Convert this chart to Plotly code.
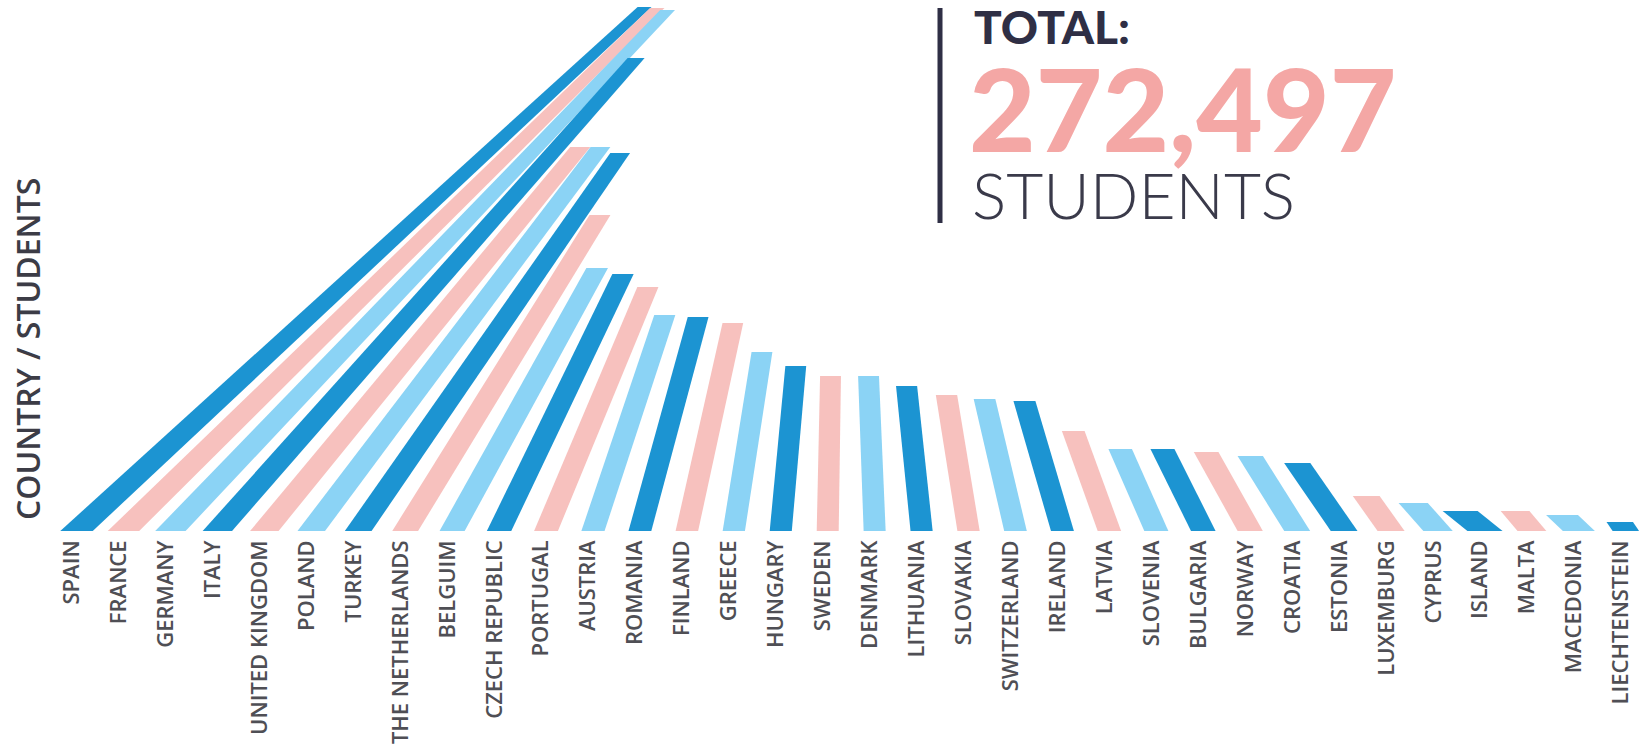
import math
import plotly.graph_objects as go

# Students per country (values ordered as drawn, left to right)
countries = [
    "SPAIN", "FRANCE", "GERMANY", "ITALY", "UNITED KINGDOM", "POLAND", "TURKEY",
    "THE NETHERLANDS", "BELGUIM", "CZECH REPUBLIC", "PORTUGAL", "AUSTRIA",
    "ROMANIA", "FINLAND", "GREECE", "HUNGARY", "SWEDEN", "DENMARK", "LITHUANIA",
    "SLOVAKIA", "SWITZERLAND", "IRELAND", "LATVIA", "SLOVENIA", "BULGARIA",
    "NORWAY", "CROATIA", "ESTONIA", "LUXEMBURG", "CYPRUS", "ISLAND", "MALTA",
    "MACEDONIA", "LIECHTENSTEIN",
]
students = [
    21260, 21220, 21140, 19190, 15580, 15580, 15340,
    12820, 10670, 10430, 9900, 8760,
    8680, 8440, 7260, 6690, 6290, 6290, 5880,
    5520, 5360, 5270, 4060, 3330, 3330,
    3210, 3040, 2760, 1420, 1140, 810, 810,
    650, 370,
]
total_label = "272,497"

# Sideways lean of each bar top, measured in bar slots
lean = [
    12.10, 11.37, 10.59, 8.92, 6.73, 6.16, 5.58,
    4.15, 3.09, 2.64, 2.17, 1.53,
    1.24, 0.98, 0.60, 0.32, 0.06, -0.13, -0.32,
    -0.47, -0.66, -0.81, -0.77, -0.77, -0.87,
    -0.94, -1.00, -1.00, -0.53, -0.53, -0.53, -0.36,
    -0.36, -0.13,
]

palette = ["#1C94D2", "#F7C1BE", "#8BD3F5"]

W, H = 1647, 751
SLOT_PX = 46.95          # horizontal distance between bar slots
STUDENTS_PER_PX = 40.57  # vertical scale
BASE_PX = 531            # baseline, pixels from the top
LEFT_PX = 76.5           # centre of the first slot
THICK = 22.0             # bar thickness at the foot, pixels

x_lo = -LEFT_PX / SLOT_PX
x_hi = x_lo + W / SLOT_PX
y_hi = BASE_PX * STUDENTS_PER_PX

lengths = []
for v, ln in zip(students, lean):
    lengths.append(math.hypot(v / STUDENTS_PER_PX, ln * SLOT_PX))
L_max = max(lengths)

fig = go.Figure()
for i, (name, v, ln) in enumerate(zip(countries, students, lean)):
    h_px = v / STUDENTS_PER_PX
    L = lengths[i]
    cos_t = h_px / L
    t_top = THICK * (1 - 0.57 * (L / L_max) ** 1.5)
    wb = THICK / cos_t / SLOT_PX
    wt = t_top / cos_t / SLOT_PX
    xs = [i - wb / 2, i + wb / 2, i + ln + wt / 2, i + ln - wt / 2, i - wb / 2]
    ys = [0, 0, v, v, 0]
    fig.add_trace(go.Scatter(
        x=xs, y=ys, mode="lines", fill="toself",
        fillcolor=palette[i % 3], line=dict(width=0, color=palette[i % 3]),
        hoverinfo="text", text=f"{name}: {v:,}", showlegend=False,
    ))

fig.update_xaxes(
    range=[x_lo, x_hi], showgrid=False, zeroline=False, showline=False,
    tickmode="array", tickvals=[i - 0.1 for i in range(len(countries))],
    ticktext=countries, tickangle=-90, ticks="",
    tickfont=dict(family="Open Sans", size=22, color="#4f4f55", weight=600),
    ticklabelstandoff=4,
)
fig.update_yaxes(range=[0, y_hi], visible=False)


def py(px):
    """Pixel row (from top) to paper y of the plot area."""
    return (BASE_PX - px) / BASE_PX


def pxx(px):
    return px / W


annotations = [
    dict(text="COUNTRY / STUDENTS", x=pxx(27), y=py(349), textangle=-90,
         xanchor="center", yanchor="middle",
         font=dict(family="Open Sans", size=32, color="#3c3c46", weight=600)),
    dict(text="TOTAL:", x=pxx(972), y=py(-3), xanchor="left", yanchor="top",
         font=dict(family="Lato", size=46, color="#2f2f45", weight=900)),
    dict(text=total_label, x=pxx(967), y=py(36), xanchor="left", yanchor="top",
         font=dict(family="Lato", size=115, color="#F4A7A5", weight=900)),
    dict(text="STUDENTS", x=pxx(970), y=py(154), xanchor="left", yanchor="top",
         font=dict(family="Lato", size=64, color="#3a3a4a", weight=300)),
]
for a in annotations:
    a.update(xref="paper", yref="paper", showarrow=False)

fig.update_layout(
    width=W, height=H,
    margin=dict(l=0, r=0, t=0, b=H - BASE_PX),
    paper_bgcolor="white", plot_bgcolor="white",
    annotations=annotations,
    shapes=[dict(type="line", xref="paper", yref="paper",
                 x0=pxx(940), x1=pxx(940), y0=py(8), y1=py(223),
                 line=dict(color="#2f2f45", width=5))],
)

fig.write_html("out.html")
